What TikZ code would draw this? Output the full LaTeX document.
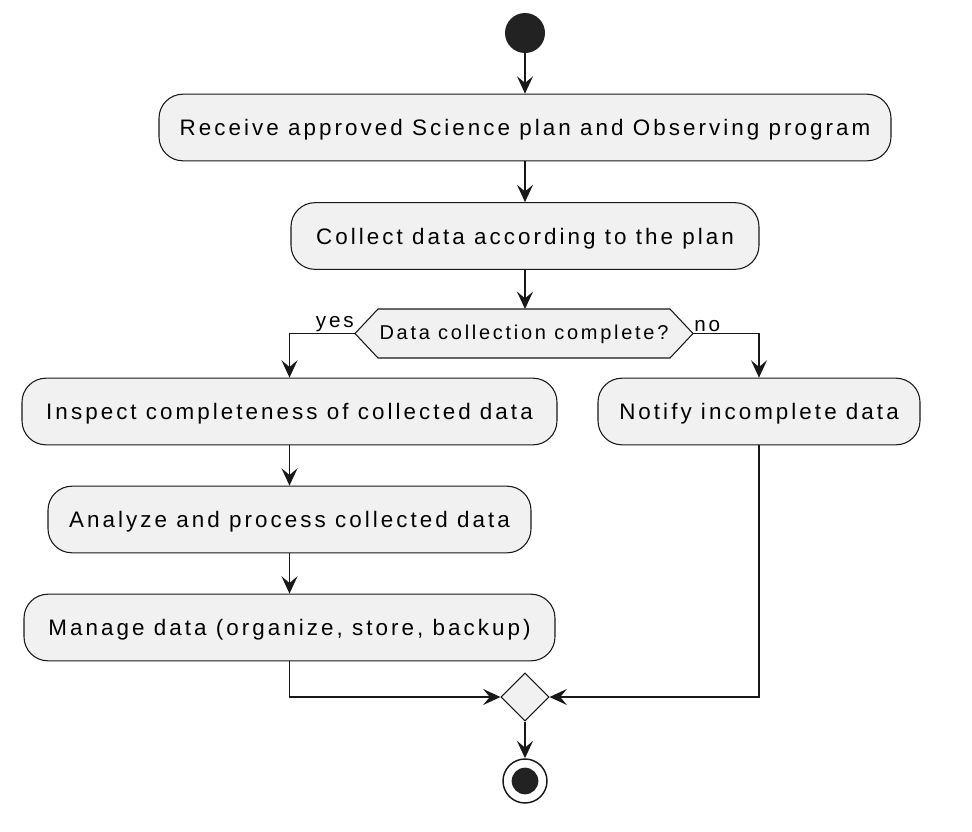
\documentclass[tikz,border=0pt]{standalone}
\usepackage{fontspec}
\setmainfont{Liberation Sans}[LetterSpace=13.6]
\usetikzlibrary{arrows.meta}
\usetikzlibrary{shapes.geometric}
\definecolor{mfill}{HTML}{F1F1F1}
\definecolor{mline}{HTML}{181818}
\definecolor{mdot}{HTML}{222222}
\tikzset{act/.style = {draw = mline, fill = mfill, rounded corners = 18pt, line width = 0.8pt, minimum height = 50pt, inner xsep = 0, text height = 14pt, text depth = 1.8pt, font = \fontsize{16.8}{20}\selectfont}}
\tikzset{flow/.style = {draw = mline, line width = 1.1pt, -{Stealth[length = 13pt, width = 12pt, inset = 5pt]}}}
\tikzset{guard/.style = {inner sep = 0.8pt, font = \fontsize{15.5}{18}\selectfont}}

\begin{document}
\begin{tikzpicture}[x = 0.75pt, y = -0.75pt]
    \useasboundingbox (0, 0) rectangle (972, 832);

    \node [circle, fill = mdot, minimum size = 30pt, inner sep = 0] (start) at (525, 33) {};

    \node [act, minimum width = 549pt] (receive) at (525, 127.5) {Receive approved Science plan and Observing program};
    \node [act, minimum width = 351pt] (collect) at (525, 236) {Collect data according to the plan};

    % decision hexagon
    \draw [mline, fill = mfill, line width = 0.8pt] (355, 333.5) -- (378, 309) -- (670, 309) -- (693, 333.5) -- (670, 358) -- (378, 358) -- cycle;
    \coordinate (dtop) at (525, 309);
    \coordinate (dleft) at (355, 333.5);
    \coordinate (dright) at (693, 333.5);
    \node [font = \fontsize{15}{18}\selectfont] (check) at (524, 334.5) {Data collection complete?};

    \node [act, minimum width = 401.25pt] (inspect) at (289.5, 411.5) {Inspect completeness of collected data};
    \node [act, minimum width = 241.5pt] (notify) at (759, 411.5) {Notify incomplete data};
    \node [act, minimum width = 362.25pt] (analyze) at (289.5, 519.5) {Analyze and process collected data};
    \node [act, minimum width = 398.25pt] (manage) at (289.5, 627.5) {Manage data (organize, store, backup)};

    \node [diamond, draw = mline, fill = mfill, line width = 0.8pt, inner sep = 0, minimum width = 36pt, minimum height = 36pt] (merge) at (525, 697) {};

    \node [circle, draw = mline, line width = 1.1pt, minimum size = 33pt, inner sep = 0] (stop) at (525, 781) {};
    \node [circle, fill = mdot, minimum size = 20pt, inner sep = 0] at (stop) {};

    \draw [flow] (start) -- (receive);
    \draw [flow] (receive) -- (collect);
    \draw [flow] (collect) -- (dtop);
    \draw [flow] (dleft) -| (inspect);
    \draw [flow] (dright) -| (notify);
    \node [guard, anchor = south east] (yes) at (dleft) {yes};
    \node [guard, anchor = south west] (no) at (dright) {no};
    \draw [flow] (inspect) -- (analyze);
    \draw [flow] (analyze) -- (manage);
    \draw [flow] (manage) |- (merge);
    \draw [flow] (notify) |- (merge);
    \draw [flow] (merge) -- (stop);
  \end{tikzpicture}
\end{document}
